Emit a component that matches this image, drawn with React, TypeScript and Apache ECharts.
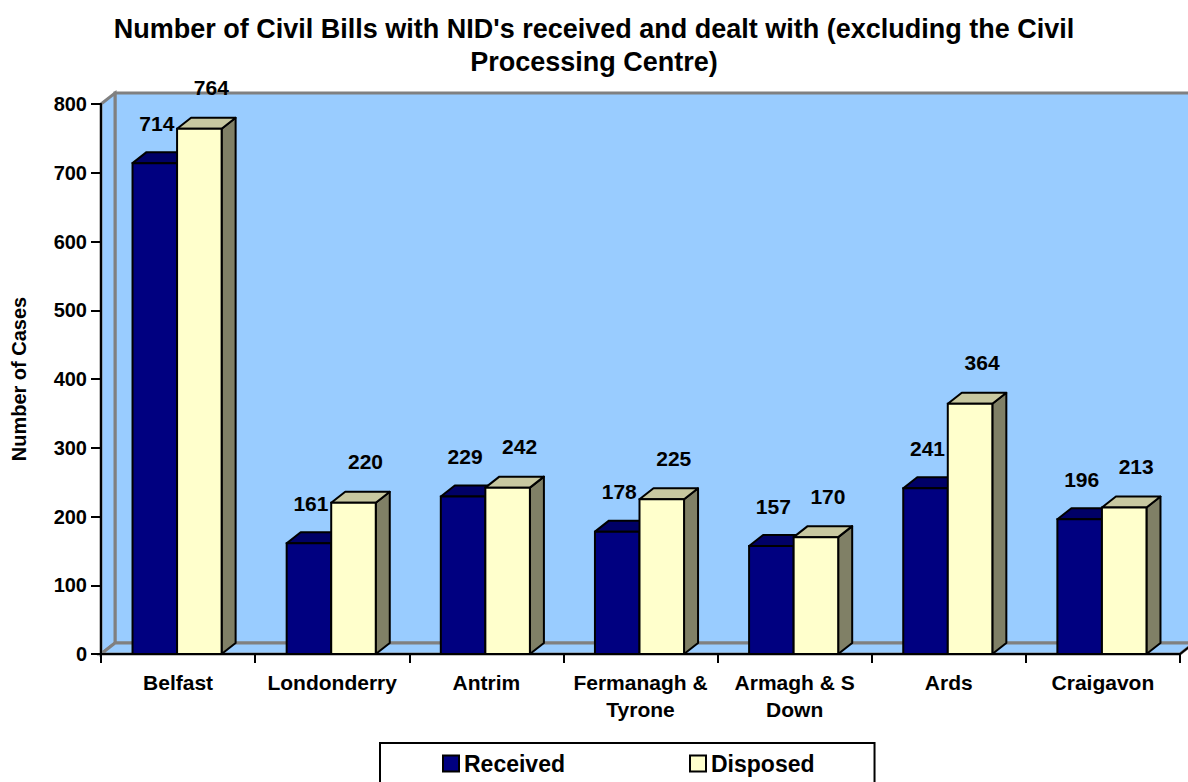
import React, { useEffect, useRef } from "react";
import * as echarts from "echarts";

const categories = [
  "Belfast",
  "Londonderry",
  "Antrim",
  "Fermanagh &\nTyrone",
  "Armagh & S\nDown",
  "Ards",
  "Craigavon",
];
const received = [714, 161, 229, 178, 157, 241, 196];
const disposed = [764, 220, 242, 225, 170, 364, 213];
const seriesNames = ["Received", "Disposed"];
const titleText =
  "Number of Civil Bills with NID's received and dealt with (excluding the Civil\nProcessing Centre)";
const yAxisName = "Number of Cases";

const FONT = "'Liberation Sans', Arial, Helvetica, sans-serif";
const DX = 14;
const DY = -11;

type BarColors = { front: string; top: string; side: string };

function makeBarRenderer(slot: number, colors: BarColors, labelDx: number, labelDy: number) {
  return (params: any, api: any) => {
    const idx = api.value(0);
    const val = api.value(1);
    const top = api.coord([idx, val]);
    const base = api.coord([idx, 0]);
    const cw = api.size([1, 0])[0];
    const w = cw * 0.289;
    const x0 = slot === 0 ? top[0] - w - 1 : top[0] - 1;
    const x1 = x0 + w;
    const yt = top[1];
    const yb = base[1];
    return {
      type: "group",
      children: [
        {
          type: "polygon",
          shape: { points: [[x1, yb], [x1, yt], [x1 + DX, yt + DY], [x1 + DX, yb + DY]] },
          style: { fill: colors.side, stroke: "#000", lineWidth: 2, lineJoin: "round" },
        },
        {
          type: "polygon",
          shape: { points: [[x0, yt], [x1, yt], [x1 + DX, yt + DY], [x0 + DX, yt + DY]] },
          style: { fill: colors.top, stroke: "#000", lineWidth: 2, lineJoin: "round" },
        },
        {
          type: "rect",
          shape: { x: x0, y: yt, width: w, height: yb - yt },
          style: { fill: colors.front, stroke: "#000", lineWidth: 2 },
        },
        {
          type: "text",
          x: (x0 + x1) / 2 + labelDx,
          y: yt + labelDy,
          style: {
            text: String(val),
            fill: "#000",
            fontSize: 21,
            fontWeight: "bold",
            fontFamily: FONT,
            align: "center",
            verticalAlign: "middle",
          },
        },
      ],
    };
  };
}

function renderWalls(params: any, api: any) {
  const cs = params.coordSys;
  const L = cs.x;
  const T = cs.y;
  const W = cs.width;
  const H = cs.height;
  const B = T + H;
  const wall = "#99CCFF";
  const edge = "#808080";
  return {
    type: "group",
    children: [
      {
        type: "rect",
        shape: { x: L + DX, y: T + DY, width: W + 40, height: H },
        style: { fill: wall, stroke: edge, lineWidth: 3 },
      },
      {
        type: "polygon",
        shape: { points: [[L, B], [L, T], [L + DX, T + DY], [L + DX, B + DY]] },
        style: { fill: wall, stroke: edge, lineWidth: 3 },
      },
      {
        type: "polygon",
        shape: { points: [[L, B], [L + W, B], [L + W + DX, B + DY], [L + DX, B + DY]] },
        style: { fill: wall, stroke: edge, lineWidth: 3 },
      },
      {
        type: "line",
        shape: { x1: L + W, y1: B, x2: L + W + DX, y2: B + DY },
        style: { stroke: "#000", lineWidth: 2 },
      },
    ],
  };
}

export default function App() {
  const ref = useRef<HTMLDivElement>(null);
  useEffect(() => {
    if (!ref.current) return;
    const chart = echarts.init(ref.current, null, { renderer: "svg" });
    const option: any = {
      animation: false,
      backgroundColor: "#ffffff",
      textStyle: { fontFamily: FONT },
      title: {
        text: titleText,
        left: "center",
        top: 12,
        padding: 0,
        textStyle: {
          fontFamily: FONT,
          fontSize: 27,
          fontWeight: "bold",
          color: "#000",
          lineHeight: 33,
        },
      },
      legend: {
        data: seriesNames,
        left: 380,
        top: 743,
        icon: "rect",
        itemWidth: 16,
        itemHeight: 16,
        itemGap: 124,
        padding: [9, 60, 30, 62],
        borderColor: "#000",
        borderWidth: 2,
        backgroundColor: "#fff",
        textStyle: { fontFamily: FONT, fontSize: 23, fontWeight: "bold", color: "#000" },
      },
      grid: { left: 101, right: 8, top: 104, bottom: 128, containLabel: false },
      xAxis: {
        type: "category",
        data: categories,
        boundaryGap: true,
        z: 5,
        axisLine: { lineStyle: { color: "#000", width: 2 } },
        axisTick: { show: true, length: 9, lineStyle: { color: "#000", width: 2 } },
        axisLabel: {
          interval: 0,
          margin: 15,
          fontFamily: FONT,
          fontSize: 21,
          fontWeight: "bold",
          color: "#000",
          lineHeight: 27,
        },
        splitLine: { show: false },
      },
      yAxis: {
        type: "value",
        min: 0,
        max: 800,
        interval: 100,
        z: 5,
        name: yAxisName,
        nameLocation: "middle",
        nameGap: 72,
        nameTextStyle: { fontFamily: FONT, fontSize: 20, fontWeight: "bold", color: "#000" },
        axisLine: { show: true, lineStyle: { color: "#000", width: 2 } },
        axisTick: { show: true, length: 10, lineStyle: { color: "#000", width: 2 } },
        axisLabel: { margin: 14, fontFamily: FONT, fontSize: 20, fontWeight: "bold", color: "#000" },
        splitLine: { show: false },
      },
      series: [
        {
          type: "custom",
          name: "walls",
          z: 0,
          silent: true,
          renderItem: renderWalls,
          data: [[0, 0]],
        },
        {
          type: "custom",
          name: seriesNames[0],
          z: 2,
          itemStyle: { color: "#000080", borderColor: "#000", borderWidth: 2 },
          renderItem: makeBarRenderer(0, { front: "#000080", top: "#000066", side: "#00004D" }, 2, -40),
          data: received.map((v, i) => [i, v]),
        },
        {
          type: "custom",
          name: seriesNames[1],
          z: 3,
          itemStyle: { color: "#FFFFCC", borderColor: "#000", borderWidth: 2 },
          renderItem: makeBarRenderer(1, { front: "#FFFFCC", top: "#C8C8A0", side: "#808066" }, 12, -41),
          data: disposed.map((v, i) => [i, v]),
        },
      ],
    };
    chart.setOption(option);
    return () => chart.dispose();
  }, []);
  return (
    <div
      ref={ref}
      style={{ position: "absolute", left: 0, top: 0, width: 1188, height: 782 }}
    />
  );
}
